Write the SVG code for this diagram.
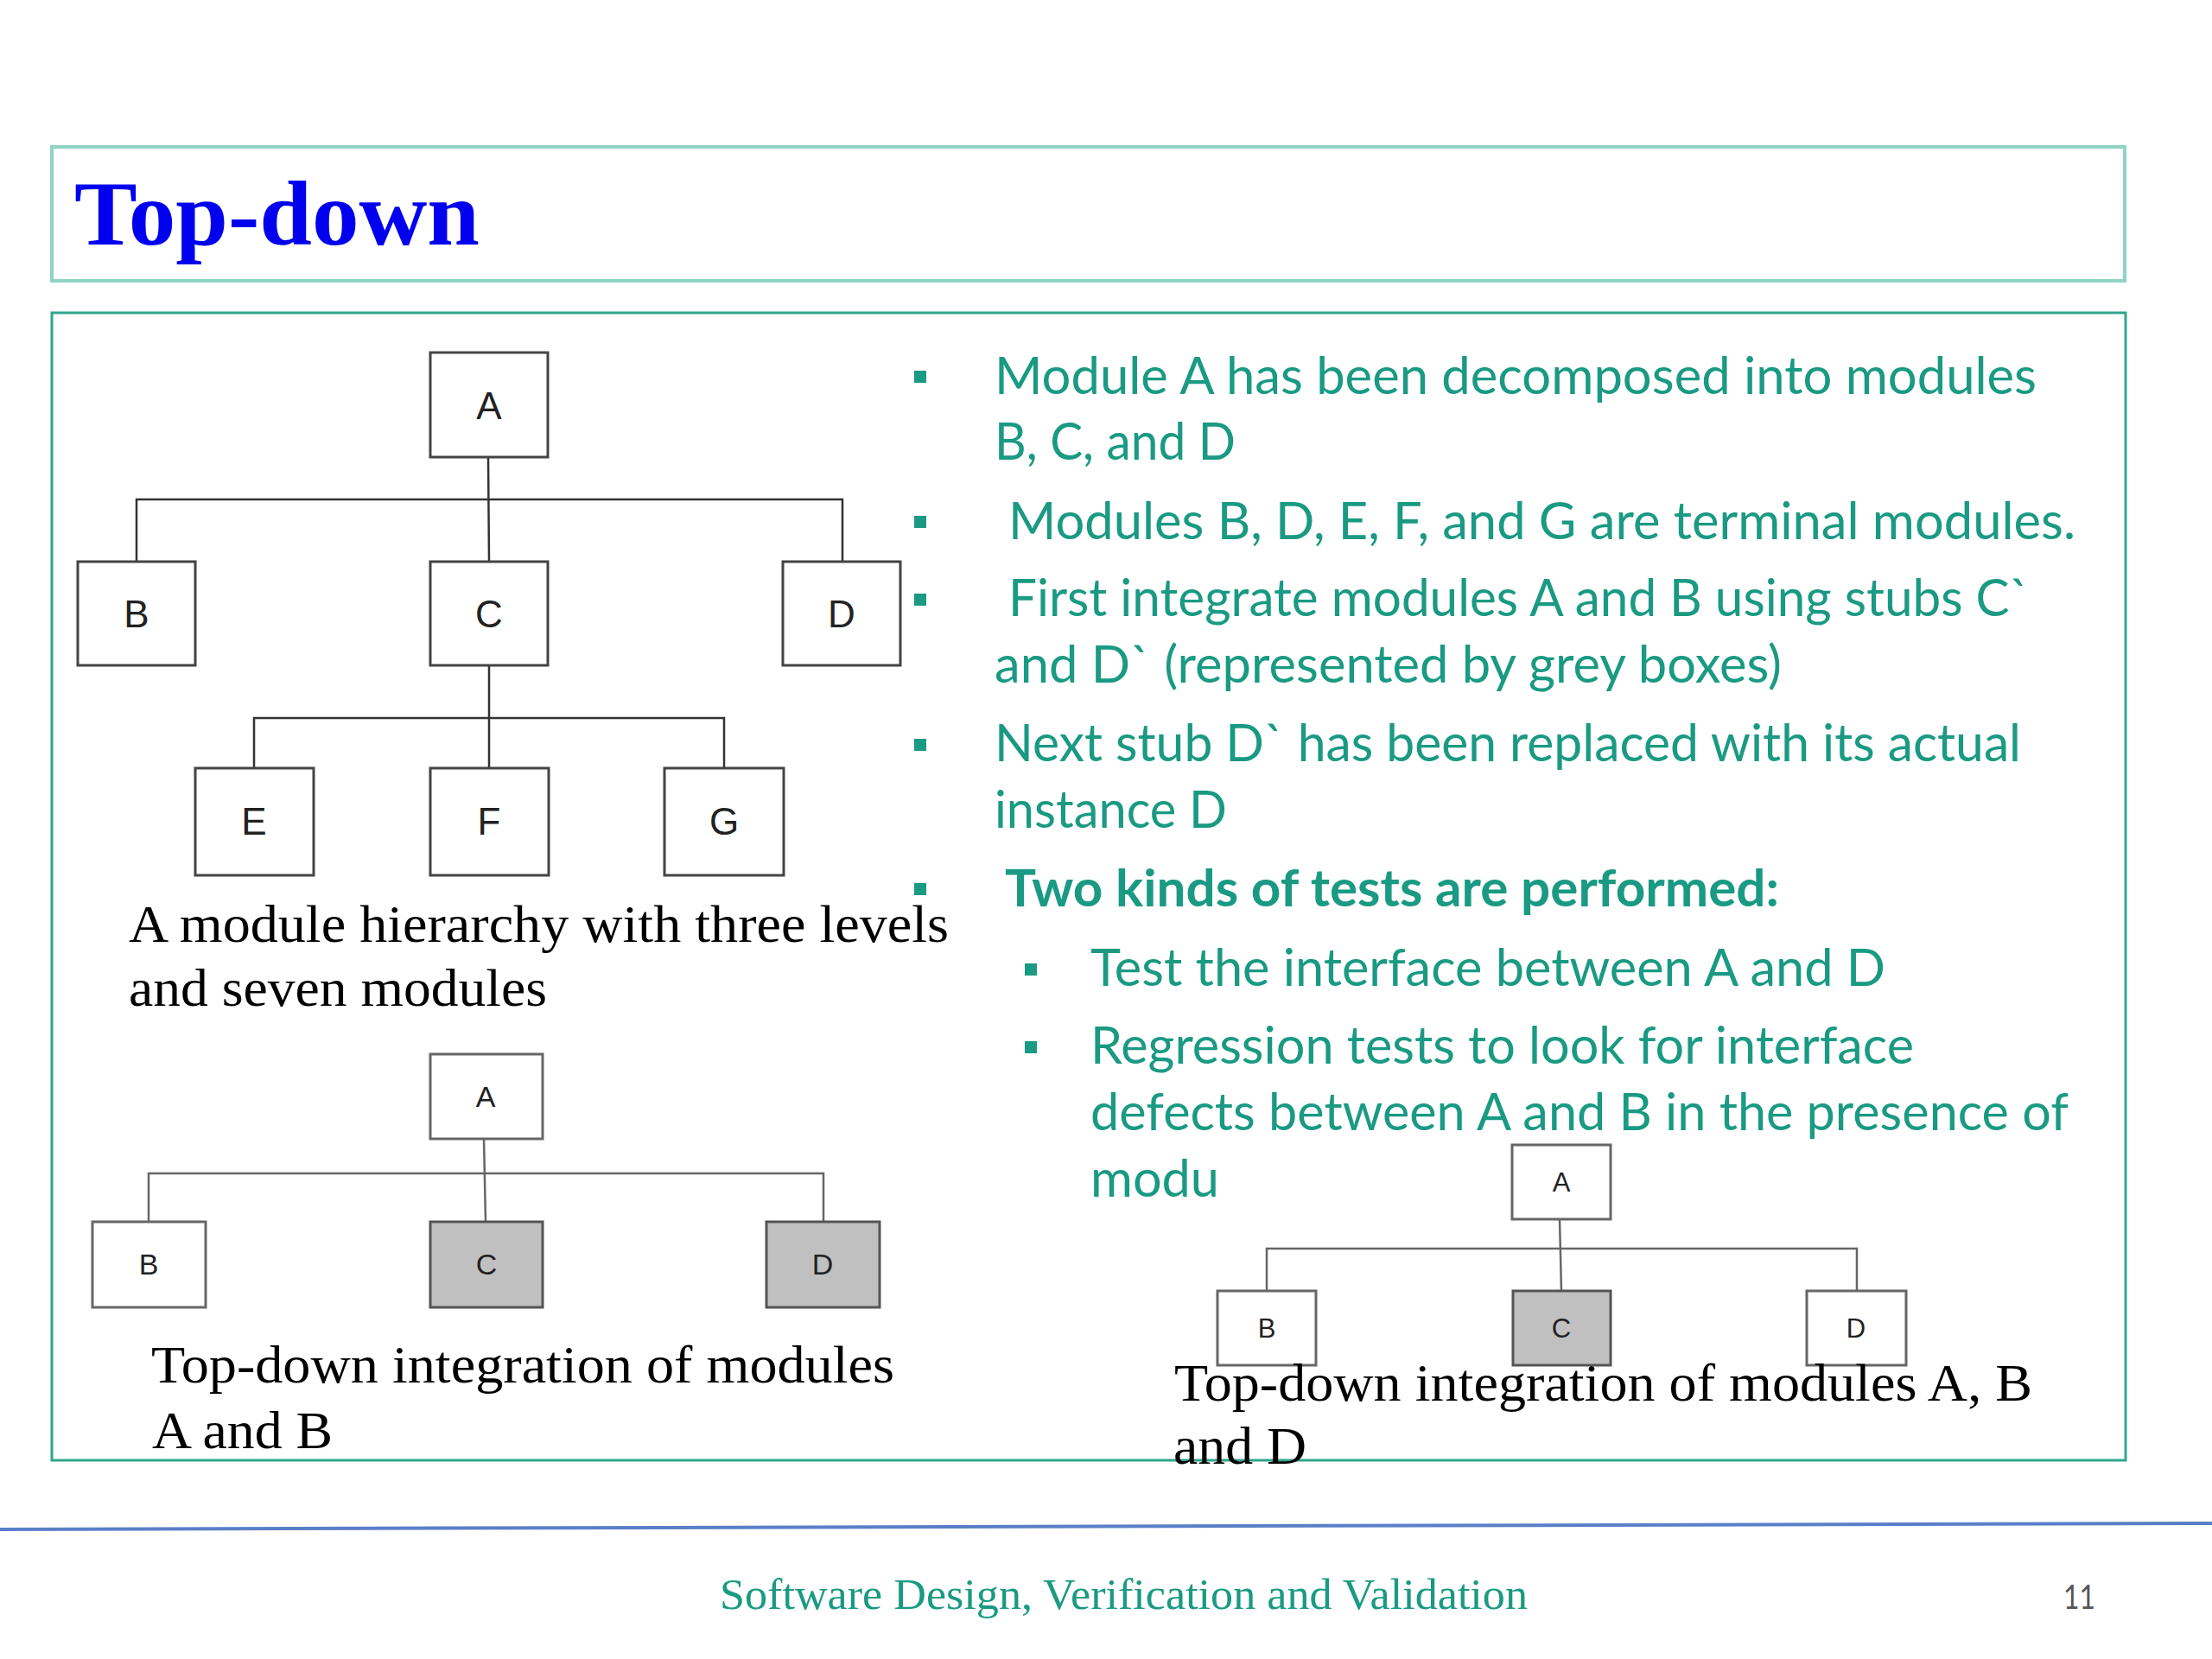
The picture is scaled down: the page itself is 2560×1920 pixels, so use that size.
<svg xmlns="http://www.w3.org/2000/svg" width="2560" height="1920" viewBox="0 0 2560 1920">
<style>
.frame1{fill:none;stroke:#8fd4c2;stroke-width:4}
.frame2{fill:none;stroke:#2fa58c;stroke-width:3}
.box{fill:#fff;stroke:#444;stroke-width:3}
.box2{fill:#fff;stroke:#666;stroke-width:3}
.stub{fill:#c0c0c0;stroke:#555;stroke-width:3}
.lbl{font-family:"Liberation Sans",Arial,sans-serif;fill:#222;text-anchor:middle}
.l1{font-size:44px}
.l2{font-size:34px}
.l3{font-size:31px}
.con{fill:none;stroke:#333;stroke-width:2.5}
.con2{fill:none;stroke:#666;stroke-width:2.5}
.cap{font-family:"Liberation Serif","Times New Roman",serif;font-size:62px;fill:#000}
.bt{font-family:Lato,"Open Sans",sans-serif;font-size:60px;fill:#1a9a82}
.bul{fill:#1a9a82}
</style>
<rect width="2560" height="1920" fill="#fff"/>
<g id="title">
<rect class="frame1" x="60" y="170" width="2399" height="155"/>
<text x="86" y="283" font-family="Liberation Serif,'Times New Roman',serif" font-weight="bold" font-size="106" fill="#0000ee" textLength="469" lengthAdjust="spacingAndGlyphs">Top-down</text>
</g>
<rect id="content-frame" class="frame2" x="60" y="362" width="2400" height="1328"/>

<g id="connectors">
<path class="con" d="M565 530 L566 650 M158 650 V578 H975 V650 M566 770 V889 M294 889 V831 H838 V889"/>
<path class="con2" d="M560 1318 L562 1414 M172 1414 V1358 H953 V1414"/>
<path class="con2" d="M1805 1411 L1807 1494 M1466 1494 V1445 H2149 V1494"/>
</g>

<g id="tree1-A"><rect class="box" x="498" y="408" width="136" height="121"/><text class="lbl l1" x="566" y="485">A</text></g>
<g id="tree1-B"><rect class="box" x="90" y="650" width="136" height="120"/><text class="lbl l1" x="158" y="726">B</text></g>
<g id="tree1-C"><rect class="box" x="498" y="650" width="136" height="120"/><text class="lbl l1" x="566" y="726">C</text></g>
<g id="tree1-D"><rect class="box" x="906" y="650" width="136" height="120"/><text class="lbl l1" x="974" y="726">D</text></g>
<g id="tree1-E"><rect class="box" x="226" y="889" width="137" height="124"/><text class="lbl l1" x="294" y="966">E</text></g>
<g id="tree1-F"><rect class="box" x="498" y="889" width="137" height="124"/><text class="lbl l1" x="566" y="966">F</text></g>
<g id="tree1-G"><rect class="box" x="769" y="889" width="138" height="124"/><text class="lbl l1" x="838" y="966">G</text></g>
<g id="caption1">
<text class="cap" x="149" y="1090" textLength="949" lengthAdjust="spacingAndGlyphs">A module hierarchy with three levels</text>
<text class="cap" x="149" y="1164" textLength="484" lengthAdjust="spacingAndGlyphs">and seven modules</text>
</g>

<g id="tree2-A"><rect class="box2" x="498" y="1220" width="130" height="98"/><text class="lbl l2" x="562" y="1281">A</text></g>
<g id="tree2-B"><rect class="box2" x="107" y="1414" width="131" height="99"/><text class="lbl l2" x="172" y="1475">B</text></g>
<g id="tree2-C"><rect class="stub" x="498" y="1414" width="130" height="99"/><text class="lbl l2" x="563" y="1475">C</text></g>
<g id="tree2-D"><rect class="stub" x="887" y="1414" width="131" height="99"/><text class="lbl l2" x="952" y="1475">D</text></g>
<g id="caption2">
<text class="cap" x="175" y="1600" font-size="60" textLength="860" lengthAdjust="spacingAndGlyphs">Top-down integration of modules</text>
<text class="cap" x="176" y="1676" font-size="60" textLength="209" lengthAdjust="spacingAndGlyphs">A and B</text>
</g>

<g id="tree3-A"><rect class="box2" x="1750" y="1325" width="114" height="86"/><text class="lbl l3" x="1807" y="1379">A</text></g>
<g id="tree3-B"><rect class="box2" x="1409" y="1494" width="114" height="86"/><text class="lbl l3" x="1466" y="1548">B</text></g>
<g id="tree3-C"><rect class="stub" x="1751" y="1494" width="113" height="86"/><text class="lbl l3" x="1807" y="1548">C</text></g>
<g id="tree3-D"><rect class="box2" x="2091" y="1494" width="115" height="86"/><text class="lbl l3" x="2148" y="1548">D</text></g>

<g id="bullets">
<rect class="bul" x="1058" y="429" width="14" height="14"/>
<rect class="bul" x="1058" y="597" width="14" height="14"/>
<rect class="bul" x="1058" y="687" width="14" height="14"/>
<rect class="bul" x="1058" y="855" width="14" height="14"/>
<rect class="bul" x="1058" y="1022" width="14" height="14"/>
<rect class="bul" x="1186" y="1115" width="14" height="14"/>
<rect class="bul" x="1186" y="1205" width="14" height="14"/>
<text class="bt" x="1151" y="456" textLength="1206" lengthAdjust="spacingAndGlyphs">Module A has been decomposed into modules</text>
<text class="bt" x="1151" y="532" textLength="279" lengthAdjust="spacingAndGlyphs">B, C, and D</text>
<text class="bt" x="1167" y="624" textLength="1235" lengthAdjust="spacingAndGlyphs">Modules B, D, E, F, and G are terminal modules.</text>
<text class="bt" x="1167" y="713" textLength="1182" lengthAdjust="spacingAndGlyphs">First integrate modules A and B using stubs C`</text>
<text class="bt" x="1151" y="790" textLength="911" lengthAdjust="spacingAndGlyphs">and D` (represented by grey boxes)</text>
<text class="bt" x="1151" y="881" textLength="1188" lengthAdjust="spacingAndGlyphs">Next stub D` has been replaced with its actual</text>
<text class="bt" x="1151" y="958" textLength="269" lengthAdjust="spacingAndGlyphs">instance D</text>
<text class="bt" x="1163" y="1049" font-weight="bold" textLength="896" lengthAdjust="spacingAndGlyphs">Two kinds of tests are performed:</text>
<text class="bt" x="1262" y="1141" textLength="920" lengthAdjust="spacingAndGlyphs">Test the interface between A and D</text>
<text class="bt" x="1262" y="1231" textLength="953" lengthAdjust="spacingAndGlyphs">Regression tests to look for interface</text>
<text class="bt" x="1262" y="1308" textLength="1132" lengthAdjust="spacingAndGlyphs">defects between A and B in the presence of</text>
<text class="bt" x="1262" y="1385" textLength="149" lengthAdjust="spacingAndGlyphs">modu</text>
</g>

<g id="caption3">
<text class="cap" x="1359" y="1621" font-size="60" textLength="993" lengthAdjust="spacingAndGlyphs">Top-down integration of modules A, B</text>
<text class="cap" x="1358" y="1694" font-size="60" textLength="154" lengthAdjust="spacingAndGlyphs">and D</text>
</g>

<g id="footer">
<line x1="0" y1="1770" x2="2560" y2="1763" stroke="#5a7fc8" stroke-width="4"/>
<text x="833" y="1862" font-family="Liberation Serif,'Times New Roman',serif" font-size="50" fill="#1a9a82" textLength="935" lengthAdjust="spacingAndGlyphs">Software Design, Verification and Validation</text>
<text x="2388" y="1862" font-family="Lato,'Open Sans',sans-serif" font-size="38" fill="#555" textLength="37" lengthAdjust="spacingAndGlyphs">11</text>
</g>
</svg>
